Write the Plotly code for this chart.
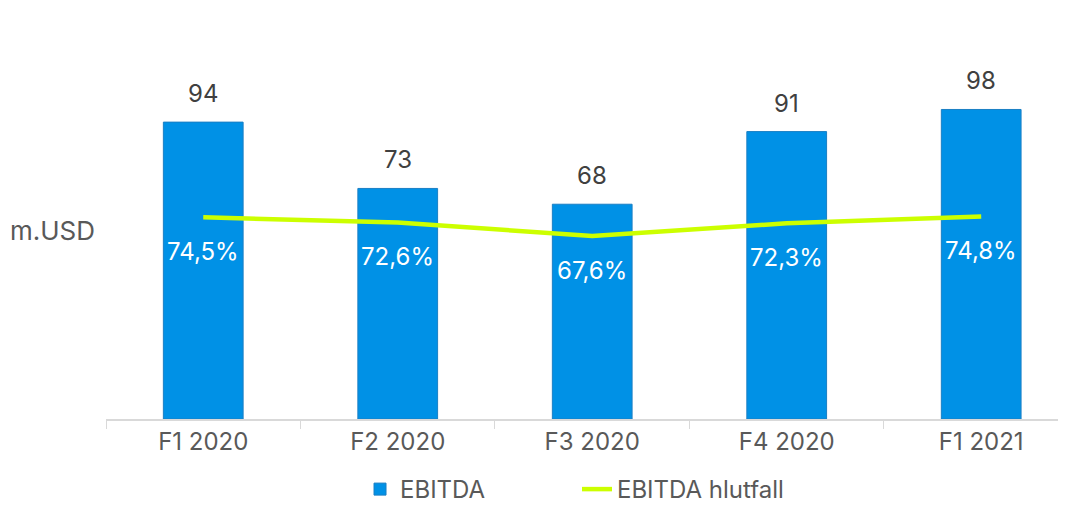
import plotly.graph_objects as go

# Données
periodes = ['F1 2020', 'F2 2020', 'F3 2020', 'F4 2020', 'F1 2021']
ebitda = [94, 73, 68, 91, 98]
hlutfall = [74.5, 72.6, 67.6, 72.3, 74.8]

hlutfall_txt = [f"{v:.1f}%".replace('.', ',') for v in hlutfall]

fig = go.Figure()

fig.add_trace(go.Bar(
    x=periodes,
    y=ebitda,
    name='EBITDA',
    marker=dict(color='#0091E6', line=dict(color='#1A7FC4', width=1)),
    width=0.41,
    legend='legend'
))

fig.add_trace(go.Scatter(
    x=periodes,
    y=hlutfall,
    name='EBITDA hlutfall',
    mode='lines',
    line=dict(color='#CCFF00', width=4.5),
    yaxis='y2',
    legend='legend2'
))

annotations = []
# Valeurs au-dessus des barres
for p, v in zip(periodes, ebitda):
    annotations.append(dict(
        x=p, y=v, xref='x', yref='y', text=str(v), showarrow=False,
        yanchor='bottom', yshift=12, font=dict(size=24, color='#404040')
    ))
# Étiquettes des pourcentages dans les barres
for p, v, t in zip(periodes, hlutfall, hlutfall_txt):
    annotations.append(dict(
        x=p, y=v, xref='x', yref='y2', text=t, showarrow=False,
        yshift=-34, font=dict(size=24, color='white')
    ))
# Titre de l'axe
annotations.append(dict(
    text='m.USD', x=0.0, xref='paper', xanchor='left', xshift=-98,
    y=(419 - 230) / 379, yref='paper', yanchor='middle', showarrow=False,
    font=dict(size=26, color='#595959')
))

legend_style = dict(orientation='h', xanchor='left', yref='container', y=-0.04,
                    yanchor='bottom', font=dict(size=24, color='#595959'),
                    bgcolor='rgba(0,0,0,0)')

# La page ajoute une marge de 8px autour de la figure
fig.update_layout(
    width=1058,
    height=504,
    margin=dict(l=98, r=0, t=32, b=93),
    plot_bgcolor='white',
    paper_bgcolor='white',
    font=dict(family='Inter, Noto Sans, sans-serif', size=24, color='#595959'),
    showlegend=True,
    legend=dict(x=0.2646, **legend_style),
    legend2=dict(x=0.4906, **legend_style),
    xaxis=dict(
        range=[-0.5, 4.436],
        automargin=False,
        showline=True,
        linecolor='#D9D9D9',
        linewidth=1.5,
        ticks='outside',
        tickson='boundaries',
        ticklen=8,
        tickcolor='#D9D9D9',
        tickfont=dict(size=24, color='#595959'),
        showgrid=False
    ),
    yaxis=dict(range=[0, 120], visible=False, showgrid=False, automargin=False),
    yaxis2=dict(range=[0, 140], visible=False, overlaying='y', side='right', automargin=False),
    annotations=annotations
)

fig.write_html("out.html")
